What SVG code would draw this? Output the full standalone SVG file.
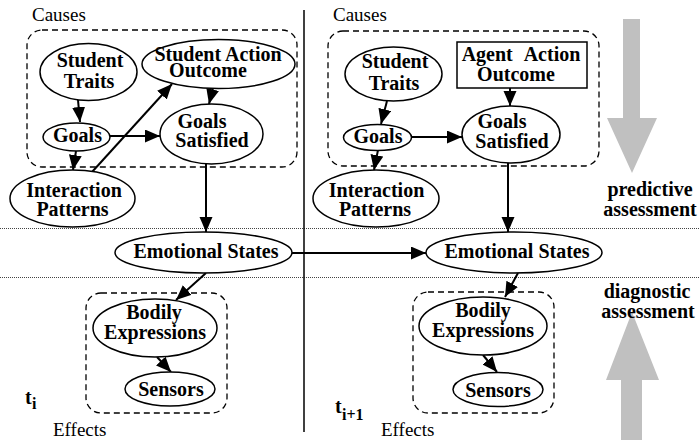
<svg xmlns="http://www.w3.org/2000/svg" width="699" height="440" viewBox="0 0 699 440">
<style>
.bg{fill:#fff}
.node{fill:#fff;stroke:#000;stroke-width:1.5}
.grp{fill:none;stroke:#000;stroke-width:1.3;stroke-dasharray:6,4}
.lbl{font-family:"Liberation Serif","Times New Roman",serif;font-weight:bold;font-size:20px;text-anchor:middle;fill:#000}
.cap{font-family:"Liberation Serif","Times New Roman",serif;font-size:19px;fill:#000}
.conn{fill:none;stroke:#000;stroke-width:2}
.dot{stroke:#444;stroke-width:1;stroke-dasharray:1,1}
.gray{fill:#c0c0c0}
</style>
<defs>
<marker id="ah" markerUnits="userSpaceOnUse" markerWidth="16" markerHeight="14" refX="15" refY="6.5" orient="auto">
<path d="M0,0 L15,6.5 L0,13 z" fill="#000"/>
</marker>
</defs>
<rect class="bg" x="0" y="0" width="699" height="440"/>

<!-- separators -->
<g id="separators">
<line class="dot" x1="0" y1="228.5" x2="699" y2="228.5"/>
<line class="dot" x1="0" y1="277.5" x2="699" y2="277.5"/>
<line x1="304" y1="10" x2="304" y2="432" stroke="#000" stroke-width="1.5"/>
</g>

<!-- gray arrows -->
<g id="predictive-arrow">
<polygon class="gray" points="623,19 640,19 640,118 657,118 632,173 607,118 623,118"/>
</g>
<g id="diagnostic-arrow">
<polygon class="gray" points="632,312 659,380 642,380 642,440 621,440 621,380 606,380"/>
</g>

<!-- group boxes -->
<g id="causes-left">
<rect class="grp" x="27" y="30" width="270" height="137" rx="15"/>
<text class="cap" x="32" y="21">Causes</text>
</g>
<g id="causes-right">
<rect class="grp" x="328" y="31" width="271" height="135" rx="15"/>
<text class="cap" x="333" y="21">Causes</text>
</g>
<g id="effects-left">
<rect class="grp" x="86" y="293" width="141" height="120" rx="15"/>
<text class="cap" x="53" y="436">Effects</text>
</g>
<g id="effects-right">
<rect class="grp" x="413" y="292" width="141" height="121" rx="15"/>
<text class="cap" x="381" y="436">Effects</text>
</g>

<!-- connectors -->
<g id="connectors">
<path class="conn" marker-end="url(#ah)" d="M78,100 L80,122"/>
<path class="conn" marker-end="url(#ah)" d="M76,151 L73,170"/>
<path class="conn" marker-end="url(#ah)" d="M92,172 L172,84"/>
<path class="conn" marker-end="url(#ah)" d="M110,136 L160,136"/>
<path class="conn" marker-end="url(#ah)" d="M213,88 L209,104"/>
<path class="conn" marker-end="url(#ah)" d="M206,164 L206,232"/>
<path class="conn" marker-end="url(#ah)" d="M292,253 L426,253"/>
<path class="conn" marker-end="url(#ah)" d="M206,273 L176,300"/>
<path class="conn" marker-end="url(#ah)" d="M157,357 L171,372"/>
<path class="conn" marker-end="url(#ah)" d="M387,101 L381,124"/>
<path class="conn" marker-end="url(#ah)" d="M378,150 L374,170"/>
<path class="conn" marker-end="url(#ah)" d="M412,137 L462,137"/>
<path class="conn" marker-end="url(#ah)" d="M510,88 L510,106"/>
<path class="conn" marker-end="url(#ah)" d="M508,163 L508,232"/>
<path class="conn" marker-end="url(#ah)" d="M518,273 L505,297"/>
<path class="conn" marker-end="url(#ah)" d="M483,355 L497,372"/>
</g>

<!-- left nodes -->
<g id="student-traits-l">
<ellipse class="node" cx="88.5" cy="72" rx="48.5" ry="28.5"/>
<text class="lbl" x="90" y="67">Student</text>
<text class="lbl" x="89" y="88">Traits</text>
</g>
<g id="student-action-outcome">
<ellipse class="node" cx="218.5" cy="64" rx="76.5" ry="24.5"/>
<text class="lbl" x="218" y="61">Student Action</text>
<text class="lbl" x="208" y="77">Outcome</text>
</g>
<g id="goals-l">
<ellipse class="node" cx="76.5" cy="137" rx="33.5" ry="14"/>
<text class="lbl" x="77.5" y="142">Goals</text>
</g>
<g id="goals-satisfied-l">
<ellipse class="node" cx="211.5" cy="134" rx="51.5" ry="30"/>
<text class="lbl" x="202" y="128">Goals</text>
<text class="lbl" x="212" y="147">Satisfied</text>
</g>
<g id="interaction-patterns-l">
<ellipse class="node" cx="72.5" cy="198.5" rx="62.5" ry="28.5"/>
<text class="lbl" x="74" y="197">Interaction</text>
<text class="lbl" x="72.5" y="216">Patterns</text>
</g>
<g id="emotional-states-l">
<ellipse class="node" cx="203.5" cy="252.5" rx="88.5" ry="20.5"/>
<text class="lbl" x="206" y="258">Emotional States</text>
</g>
<g id="bodily-expressions-l">
<ellipse class="node" cx="155" cy="328" rx="62" ry="29"/>
<text class="lbl" x="154" y="319">Bodily</text>
<text class="lbl" x="155" y="339">Expressions</text>
</g>
<g id="sensors-l">
<ellipse class="node" cx="170" cy="389" rx="45" ry="17"/>
<text class="lbl" x="171" y="396">Sensors</text>
</g>
<g id="time-i">
<text class="lbl" style="text-anchor:start" x="25" y="404">t</text>
<text class="lbl" style="text-anchor:start;font-size:16px" x="32" y="409">i</text>
</g>

<!-- right nodes -->
<g id="student-traits-r">
<ellipse class="node" cx="393.5" cy="74" rx="48.5" ry="27"/>
<text class="lbl" x="395" y="68">Student</text>
<text class="lbl" x="394" y="90">Traits</text>
</g>
<g id="agent-action-outcome">
<rect class="node" x="457" y="42" width="130" height="46"/>
<text class="lbl" x="521" y="61" word-spacing="7">Agent Action</text>
<text class="lbl" x="516" y="81">Outcome</text>
</g>
<g id="goals-r">
<ellipse class="node" cx="377.5" cy="137.5" rx="34" ry="13"/>
<text class="lbl" x="378" y="143">Goals</text>
</g>
<g id="goals-satisfied-r">
<ellipse class="node" cx="511" cy="134.5" rx="49" ry="28.5"/>
<text class="lbl" x="502" y="128">Goals</text>
<text class="lbl" x="512" y="148">Satisfied</text>
</g>
<g id="interaction-patterns-r">
<ellipse class="node" cx="376" cy="198.5" rx="63" ry="28.5"/>
<text class="lbl" x="376.5" y="197">Interaction</text>
<text class="lbl" x="375" y="216">Patterns</text>
</g>
<g id="emotional-states-r">
<ellipse class="node" cx="514" cy="252.5" rx="88" ry="20.5"/>
<text class="lbl" x="517" y="258">Emotional States</text>
</g>
<g id="bodily-expressions-r">
<ellipse class="node" cx="483" cy="326" rx="64" ry="29"/>
<text class="lbl" x="483" y="317">Bodily</text>
<text class="lbl" x="483" y="337">Expressions</text>
</g>
<g id="sensors-r">
<ellipse class="node" cx="498" cy="389.5" rx="45" ry="17"/>
<text class="lbl" x="498" y="397">Sensors</text>
</g>
<g id="time-i1">
<text class="lbl" style="text-anchor:start" x="335" y="413">t</text>
<text class="lbl" style="text-anchor:start;font-size:16px" x="342" y="420">i+1</text>
</g>

<!-- assessment labels -->
<g id="predictive-label">
<text class="lbl" x="650" y="196">predictive</text>
<text class="lbl" x="650" y="216">assessment</text>
</g>
<g id="diagnostic-label">
<text class="lbl" x="647" y="298">diagnostic</text>
<text class="lbl" x="648" y="318">assessment</text>
</g>
</svg>
